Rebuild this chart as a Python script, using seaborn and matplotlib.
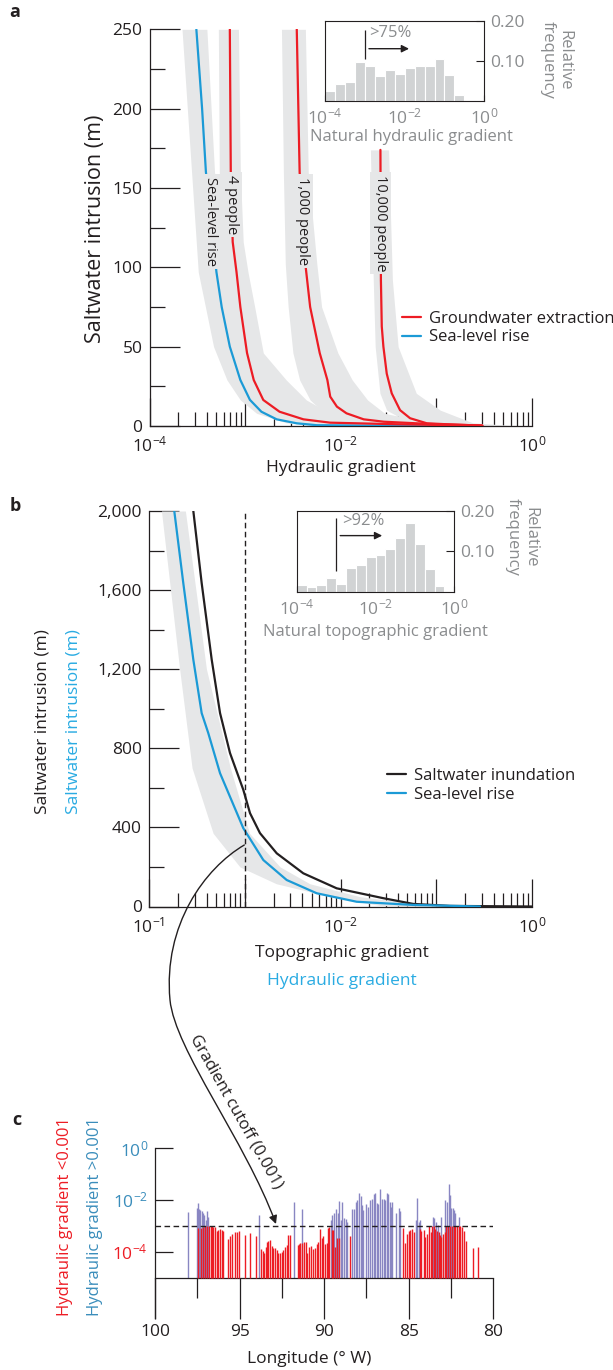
import matplotlib
matplotlib.use("Agg")
import matplotlib.pyplot as plt
import seaborn as sns
import numpy as np
from matplotlib.lines import Line2D
from matplotlib.patches import FancyArrowPatch
from matplotlib.path import Path
from matplotlib.ticker import FixedLocator, NullLocator

# ---------------- panel a : intrusion (m) vs log10(hydraulic gradient) ----------------
slr_a_grad = [-3.51, -3.45, -3.41, -3.30, -3.245, -3.16, -3.05, -2.95, -2.83, -2.67, -2.46, -2.25, -1.40, -0.52]
slr_a_intr = [250, 200, 160, 97, 75, 50, 29, 16.5, 9, 4.2, 1.7, 0.5, 0.1, 0.05]
p4_grad = [-3.16, -3.15, -3.13, -3.09, -3.05, -2.98, -2.91, -2.81, -2.64, -2.39, -2.11, -1.41, -0.52]
p4_intr = [250, 160, 116, 97, 75, 46, 29, 16.4, 9, 4.2, 2.1, 1.1, 0.2]
p1000_grad = [-2.46, -2.43, -2.37, -2.32, -2.22, -2.14, -2.11, -2.04, -1.94, -1.76, -1.55, -1.07, -0.52]
p1000_intr = [250, 160, 102, 75, 46, 29, 18.5, 12.2, 8, 4.2, 2.7, 1.3, 0.3]
p10000_grad = [-1.585, -1.58, -1.571, -1.554, -1.519, -1.467, -1.38, -1.275, -1.10, -0.89, -0.52]
p10000_intr = [174, 92, 62.7, 50, 33, 20.6, 10, 4.9, 1.7, 1.1, 0.2]

# uncertainty bands (intrusion level, lower / upper log10 gradient)
slr_band_lvl = [250, 160, 97, 50, 29, 16.4, 8, 2, 0]
slr_band_lo = [-3.66, -3.56, -3.49, -3.33, -3.19, -3.05, -2.88, -2.57, -2.25]
slr_band_hi = [-3.40, -3.32, -3.18, -2.95, -2.76, -2.53, -2.22, -1.80, -1.38]
p4_band_lvl = [250, 160, 116, 97, 75, 46, 29, 16.4, 8, 2, 0]
p4_band_lo = [-3.28, -3.27, -3.245, -3.23, -3.19, -3.12, -3.05, -2.95, -2.82, -2.53, -2.11]
p4_band_hi = [-3.07, -3.05, -3.02, -2.97, -2.90, -2.81, -2.57, -2.36, -2.11, -1.77, -1.17]
p1000_band_lvl = [250, 160, 102, 75, 46, 29, 16.4, 8, 2, 0]
p1000_band_lo = [-2.62, -2.60, -2.58, -2.55, -2.50, -2.43, -2.32, -2.17, -1.85, -1.38]
p1000_band_hi = [-2.37, -2.34, -2.25, -2.20, -2.03, -1.88, -1.72, -1.54, -1.07, -0.34]
p10000_band_lvl = [174, 92, 50, 20.6, 10, 2, 0]
p10000_band_lo = [-1.69, -1.66, -1.64, -1.59, -1.52, -1.28, -0.96]
p10000_band_hi = [-1.50, -1.46, -1.40, -1.21, -0.96, -0.62, -0.13]

# inset a: natural hydraulic gradient histogram (quarter-decade bins)
hyd_bin_left = [-4.0, -3.75, -3.5, -3.25, -3.0, -2.75, -2.5, -2.25, -2.0, -1.75, -1.5, -1.25, -1.0, -0.75]
hyd_freq = [0.024, 0.041, 0.047, 0.096, 0.088, 0.061, 0.076, 0.067, 0.082, 0.088, 0.088, 0.104, 0.065, 0.015]

# ---------------- panel b ----------------
inund_grad = [-3.537, -3.45, -3.345, -3.258, -3.154, -3.015, -2.945, -2.841, -2.666, -2.389, -2.04, -1.553, -1.24, -0.856, 0.0]
inund_intr = [2000, 1636, 1248, 978, 776, 590, 472, 371, 269, 168, 92, 42, 13, 3, 0]
slr_b_grad = [-3.736, -3.642, -3.537, -3.45, -3.381, -3.258, -3.015, -2.806, -2.562, -2.249, -1.831, -1.243, -0.543]
slr_b_intr = [2000, 1636, 1248, 978, 877, 674, 396, 235, 134, 67, 24, 8, 0]
slr_b_band_lvl = [2000, 1200, 700, 370, 200, 115, 50, 5, 0]
slr_b_band_lo = [-3.87, -3.68, -3.55, -3.33, -3.05, -2.67, -2.11, -1.59, -1.17]
slr_b_band_hi = [-3.62, -3.40, -3.15, -2.95, -2.63, -2.32, -1.80, -1.07, -0.65]

topo_bin_left = [-4.0, -3.75, -3.5, -3.25, -3.0, -2.75, -2.5, -2.25, -2.0, -1.75, -1.5, -1.25, -1.0, -0.75, -0.5]
topo_freq = [0.016, 0.012, 0.016, 0.033, 0.020, 0.058, 0.066, 0.086, 0.092, 0.105, 0.134, 0.170, 0.117, 0.057, 0.015]

# ---------------- panel c : gradient along the coast ----------------
lon_hi = [98.05, 97.53, 97.47, 97.40, 97.32, 97.24, 97.16, 97.08, 97.00, 96.92, 96.84,
          93.83, 91.76, 91.32,
          89.61, 89.51, 89.41, 89.31, 89.21, 89.11, 89.02, 88.92, 88.82, 88.72, 88.62,
          88.33, 88.23, 88.13, 88.03, 87.93, 87.85, 87.77, 87.68, 87.50, 87.38, 87.28, 87.18, 87.08, 86.98,
          86.89, 86.79, 86.71, 86.59, 86.49, 86.39, 86.29, 86.21, 86.13, 86.03, 85.96, 85.74, 85.60, 85.52,
          84.58, 84.50, 84.42, 84.32, 83.57, 83.49, 83.39, 83.29, 83.08, 82.84, 82.74, 82.64, 82.58,
          82.50, 82.41, 82.33, 82.25, 82.05]
grad_hi = [-2.48, -2.30, -2.11, -2.36, -2.39, -2.42, -2.52, -2.58, -2.78, -2.45, -2.65,
           -2.58, -2.07, -2.36,
           -2.78, -2.58, -2.49, -2.36, -2.52, -2.03, -2.78, -2.07, -2.71, -2.75, -2.84,
           -2.36, -2.36, -2.07, -2.00, -1.72, -1.87, -2.20, -2.39, -2.16, -2.26, -2.00, -1.98, -1.77, -1.75,
           -2.13, -2.16, -1.59, -1.98, -1.98, -2.00, -1.72, -1.77, -2.07, -2.26, -2.07, -2.52, -2.32, -2.45,
           -2.78, -1.94, -2.84, -2.78, -2.67, -2.71, -2.84, -2.97, -2.67, -2.00, -2.07, -1.39, -1.81,
           -2.32, -2.32, -2.39, -2.49, -2.67]
lon_lo = [97.44, 97.30, 97.18, 97.04, 96.94, 96.78, 96.71, 96.63, 96.55, 96.45, 96.35, 96.25, 96.15, 96.05,
          95.96, 95.70, 95.56, 95.42, 95.30, 95.17, 95.03, 94.67, 94.36, 94.02,
          93.75, 93.63, 93.55, 93.45, 93.39, 93.29, 93.19, 93.10, 93.00, 92.90, 92.80, 92.70, 92.60,
          92.50, 92.41, 92.31, 92.21, 92.15, 92.03,
          91.56, 91.48, 91.40, 91.28, 91.17, 91.09, 90.99, 90.89, 90.77, 90.63, 90.53, 90.44, 90.34,
          90.24, 90.14, 90.04, 89.94, 89.84, 89.79, 89.69, 89.55, 89.45, 89.35, 89.25, 89.15, 88.46,
          85.31, 85.21, 85.11, 85.01, 84.91, 84.81, 84.71, 84.36, 84.26, 84.12, 84.02, 83.90, 83.83,
          83.71, 83.63, 83.53, 83.43, 83.33, 83.23, 83.18, 83.08, 82.98, 82.88, 82.80, 82.68, 82.54,
          82.45, 82.35, 82.25, 82.15, 82.05, 81.95, 81.85, 81.74, 81.60, 81.22, 80.89]
grad_lo = [-3.10, -3.10, -3.06, -3.02, -3.00, -3.00, -3.02, -3.01, -3.03, -3.06, -3.19, -3.16, -3.14, -3.16,
           -3.20, -3.52, -3.39, -3.31, -3.26, -3.23, -3.19, -3.36, -3.29, -3.38,
           -3.91, -3.96, -4.06, -3.81, -3.61, -3.57, -3.55, -3.78, -3.84, -3.84, -3.93, -4.06, -4.06,
           -4.00, -3.93, -3.81, -3.74, -3.35, -3.35,
           -3.74, -3.70, -3.68, -3.68, -3.61, -3.61, -4.06, -3.83, -3.78, -3.91, -3.87, -3.70, -3.61,
           -3.14, -3.48, -3.39, -3.70, -3.65, -3.10, -3.03, -3.16, -3.16, -3.83, -3.48, -3.48, -3.39,
           -3.10, -3.68, -3.32, -3.19, -3.16, -3.14, -3.23, -3.14, -3.19, -3.16, -3.45, -3.32, -3.01,
           -3.23, -3.01, -3.01, -3.14, -3.19, -3.23, -3.35, -3.42, -3.32, -3.23, -3.01, -3.01, -3.00,
           -3.00, -3.01, -3.00, -3.00, -3.00, -3.01, -3.03, -3.19, -3.59, -3.87, -3.83]

# ---------------- style ----------------
INK = "#231f20"
GRAYTXT = "#8a8c8e"
BAND = "#e6e7e8"
RED = "#ed1c24"
BLUE = "#1b9ad6"
CYAN = "#29abe2"
STEEL = "#3a8dbb"
PURPLE = "#8986c2"
HIST = "#d1d3d4"

sns.set_style("white")
plt.rcParams["font.family"] = ["Open Sans", "DejaVu Sans"]
plt.rcParams.update({
    "mathtext.fontset": "custom",
    "mathtext.rm": "Open Sans",
    "mathtext.it": "Open Sans:italic",
    "mathtext.bf": "Open Sans:bold",
    "text.color": INK,
    "axes.edgecolor": INK,
    "axes.linewidth": 0.9,
})

W, H = 613, 1370


def fx(x):
    return x / W


def fy(y):
    return 1 - y / H


def pw(w):
    return w / W


def ph(h):
    return h / H


def sup(e):
    return r"$\mathregular{10^{%d}}$" % e


decades = [1e-4, 1e-3, 1e-2, 1e-1, 1.0]
minor_x = [m * 10.0 ** e for e in range(-4, 0) for m in range(2, 10)]


def style_main(ax, xlabels, ymax, ymajor, ylabels, yminor):
    ax.set_xscale("log")
    ax.set_xlim(1e-4, 1)
    ax.set_ylim(0, ymax)
    ax.set_xticks(decades, labels=xlabels)
    ax.xaxis.set_minor_locator(FixedLocator(minor_x))
    ax.set_yticks(ymajor, labels=ylabels)
    ax.yaxis.set_minor_locator(FixedLocator(yminor))
    ax.tick_params(axis="x", which="both", bottom=True, top=False)
    ax.tick_params(axis="y", which="both", left=True, right=False)
    ax.tick_params(axis="x", which="major", direction="in", length=20, width=0.9, color=INK,
                   labelsize=12.5, labelcolor=INK, pad=7)
    ax.tick_params(axis="x", which="minor", direction="in", length=10, width=0.9, color=INK)
    ax.tick_params(axis="y", which="major", direction="in", length=21.5, width=0.9, color=INK,
                   labelsize=12.5, labelcolor=INK, pad=5)
    ax.tick_params(axis="y", which="minor", direction="in", length=10.8, width=0.9, color=INK)
    sns.despine(ax=ax)
    ax.patch.set_alpha(0)


def band(ax, lvl, lo, hi):
    ax.fill_betweenx(lvl, 10 ** np.array(lo), 10 ** np.array(hi), color=BAND, lw=0, zorder=1)


def curve(ax, g, v, color):
    sns.lineplot(x=10 ** np.array(g), y=v, sort=False, estimator=None, color=color,
                 lw=1.6, ax=ax, zorder=3)


def inset(ax, left, freq, pct, vline, arrow_y, arrow_end, text_pos):
    edges = 10 ** np.array(left)
    widths = 10 ** (np.array(left) + 0.25) - edges
    ax.bar(edges, freq, width=widths, align="edge", color=HIST, edgecolor="white", lw=0.8)
    ax.set_xscale("log")
    ax.set_xlim(1e-4, 1)
    ax.set_ylim(0, 0.2)
    ax.set_xticks(decades, labels=[sup(-4), "", sup(-2), "", sup(0)])
    ax.xaxis.set_minor_locator(NullLocator())
    ax.yaxis.tick_right()
    ax.set_yticks([0.1, 0.2], labels=["0.10", "0.20"])
    ax.tick_params(axis="x", bottom=True, top=False)
    ax.tick_params(axis="y", right=True, left=False)
    ax.tick_params(axis="x", direction="in", length=4, width=0.8, color=INK, labelsize=12.5,
                   labelcolor=GRAYTXT, pad=5)
    ax.tick_params(axis="y", direction="in", length=5.5, width=0.8, color=INK, labelsize=12.5,
                   labelcolor=GRAYTXT, pad=4)
    for s in ax.spines.values():
        s.set_visible(True)
        s.set_color(INK)
        s.set_linewidth(0.8)
    ax.vlines(1e-3, vline[0], vline[1], color=INK, lw=0.9)
    ax.annotate("", xy=(arrow_end, arrow_y), xytext=(1.08e-3, arrow_y),
                arrowprops=dict(arrowstyle="-|>", color=INK, lw=1, mutation_scale=11))
    ax.text(text_pos[0], text_pos[1], pct, ha="left", va="center", fontsize=12, color=GRAYTXT)


fig = plt.figure(figsize=(W / 100, H / 100), dpi=100)

# ---------------- panel a ----------------
ax_a = fig.add_axes([fx(149.5), fy(426), pw(382.5), ph(396.7)])
band(ax_a, slr_band_lvl, slr_band_lo, slr_band_hi)
band(ax_a, p4_band_lvl, p4_band_lo, p4_band_hi)
band(ax_a, p1000_band_lvl, p1000_band_lo, p1000_band_hi)
band(ax_a, p10000_band_lvl, p10000_band_lo, p10000_band_hi)
curve(ax_a, slr_a_grad, slr_a_intr, BLUE)
curve(ax_a, p4_grad, p4_intr, RED)
curve(ax_a, p1000_grad, p1000_intr, RED)
curve(ax_a, p10000_grad, p10000_intr, RED)
style_main(ax_a, [sup(-4), "", sup(-2), "", sup(0)], 250,
           [0, 50, 100, 150, 200, 250], ["0", "50", "100", "150", "200", "250"],
           [25, 75, 125, 175, 225])
for txt, gx, gy in [("Sea-level rise", -3.36, 129), ("4 people", -3.14, 139.5),
                    ("1,000 people", -2.40, 129), ("10,000 people", -1.583, 128)]:
    ax_a.text(10 ** gx, gy, txt, rotation=-90, ha="center", va="center", fontsize=10.5,
              color=INK, zorder=5,
              bbox=dict(boxstyle="square,pad=0.2", fc=BAND, ec="none"))
ax_a.legend(handles=[Line2D([], [], color=RED, lw=1.6), Line2D([], [], color=BLUE, lw=1.6)],
            labels=["Groundwater extraction", "Sea-level rise"], loc="upper left",
            bbox_to_anchor=(0.659, 0.29), frameon=False, fontsize=12, handlelength=1.15,
            handletextpad=0.5, labelspacing=0.15, borderpad=0, borderaxespad=0)
fig.text(fx(95), fy(229), "Saltwater intrusion (m)", rotation=90, ha="center", va="center", fontsize=15.5)
fig.text(fx(341), fy(468), "Hydraulic gradient", ha="center", va="center", fontsize=12.5)

ax_ia = fig.add_axes([fx(325), fy(100.7), pw(159.3), ph(80)])
inset(ax_ia, hyd_bin_left, hyd_freq, ">75%", (0.104, 0.176), 0.13, 10 ** -1.82, (10 ** -2.88, 0.169))
fig.text(fx(411.7), fy(136.7), "Natural hydraulic gradient", ha="center", va="center",
         fontsize=12, color=GRAYTXT)
fig.text(fx(556), fy(60), "Relative\nfrequency", rotation=270, ha="center", va="center",
         multialignment="center", fontsize=12, color=GRAYTXT, linespacing=1.1)

# ---------------- panel b ----------------
ax_b = fig.add_axes([fx(149), fy(906.5), pw(383), ph(395.5)])
band(ax_b, slr_b_band_lvl, slr_b_band_lo, slr_b_band_hi)
curve(ax_b, inund_grad, inund_intr, INK)
curve(ax_b, slr_b_grad, slr_b_intr, BLUE)
ax_b.axvline(1e-3, color=INK, lw=1, ls=(0, (4, 2.5)), zorder=4)
style_main(ax_b, [sup(-1), "", sup(-2), "", sup(0)], 2000,
           [0, 400, 800, 1200, 1600, 2000], ["0", "400", "800", "1,200", "1,600", "2,000"],
           [200, 600, 1000, 1400, 1800])
ax_b.legend(handles=[Line2D([], [], color=INK, lw=1.6), Line2D([], [], color=BLUE, lw=1.6)],
            labels=["Saltwater inundation", "Sea-level rise"], loc="upper left",
            bbox_to_anchor=(0.621, 0.35), frameon=False, fontsize=12, handlelength=1.15,
            handletextpad=0.5, labelspacing=0.15, borderpad=0, borderaxespad=0)
fig.text(fx(43), fy(722), "Saltwater intrusion (m)", rotation=90, ha="center", va="center", fontsize=12.5)
fig.text(fx(74), fy(722), "Saltwater intrusion (m)", rotation=90, ha="center", va="center",
         fontsize=12.5, color=CYAN)
fig.text(fx(342), fy(953), "Topographic gradient", ha="center", va="center", fontsize=12.5)
fig.text(fx(342), fy(981), "Hydraulic gradient", ha="center", va="center", fontsize=12.5, color=CYAN)

ax_ib = fig.add_axes([fx(296.7), fy(591.7), pw(157.6), ph(80.7)])
inset(ax_ib, topo_bin_left, topo_freq, ">92%", (0.0525, 0.183), 0.139, 10 ** -1.76, (10 ** -2.84, 0.176))
fig.text(fx(375.8), fy(632), "Natural topographic gradient", ha="center", va="center",
         fontsize=12, color=GRAYTXT)
fig.text(fx(521.7), fy(537), "Relative\nfrequency", rotation=270, ha="center", va="center",
         multialignment="center", fontsize=12, color=GRAYTXT, linespacing=1.1)

# ---------------- panel c ----------------
ax_c = fig.add_axes([fx(155), fy(1318), pw(338.3), ph(170)])
ax_c.set_yscale("log")
ax_c.set_xlim(100, 80)
ax_c.set_ylim(10 ** -6.56, 1)
ax_c.vlines(lon_hi, 1e-5, 10 ** np.array(grad_hi), color=PURPLE, lw=1.0, zorder=2)
ax_c.vlines(lon_lo, 1e-5, 10 ** np.array(grad_lo), color=RED, lw=1.0, zorder=3)
ax_c.axhline(1e-3, color=INK, lw=1, ls=(0, (4, 2.5)), zorder=4)
sns.despine(ax=ax_c)
ax_c.spines["bottom"].set_position(("data", 1e-5))
ax_c.set_xticks([100, 95, 90, 85, 80], labels=["100", "95", "90", "85", "80"])
ax_c.xaxis.set_minor_locator(FixedLocator([97.5, 92.5, 87.5, 82.5]))
ax_c.tick_params(axis="x", which="both", bottom=True, top=False)
ax_c.tick_params(axis="x", which="major", direction="out", length=29.5, width=0.9, color=INK,
                 labelsize=12.5, labelcolor=INK, pad=4)
ax_c.tick_params(axis="x", which="minor", direction="out", length=14.4, width=0.9, color=INK)
ax_c.set_yticks([1, 1e-2, 1e-4], labels=[sup(0), sup(-2), sup(-4)])
ax_c.yaxis.set_minor_locator(NullLocator())
ax_c.tick_params(axis="y", left=True, right=False, direction="in", length=13, width=0.9,
                 color=INK, labelsize=12.5, pad=5)
for lab, col in zip(ax_c.get_yticklabels(), [STEEL, STEEL, RED]):
    lab.set_color(col)
ax_c.patch.set_alpha(0)
fig.text(fx(65), fy(1217), "Hydraulic gradient <0.001", rotation=90, ha="center", va="center",
         fontsize=12, color=RED)
fig.text(fx(95), fy(1217), "Hydraulic gradient >0.001", rotation=90, ha="center", va="center",
         fontsize=12, color=STEEL)
fig.text(fx(309), fy(1359), "Longitude (\u00b0 W)", ha="center", va="center", fontsize=12.5)

# connector from panel b cut-off to panel c
verts = [(244.3, 845), (205, 868), (163, 925), (170, 1000), (175, 1050), (245, 1140), (276, 1224)]
verts = [(fx(x), fy(y)) for x, y in verts]
codes = [Path.MOVETO, Path.CURVE4, Path.CURVE4, Path.CURVE4, Path.CURVE4, Path.CURVE4, Path.CURVE4]
conn = FancyArrowPatch(path=Path(verts, codes), arrowstyle="-|>", mutation_scale=12,
                       color=INK, lw=1, transform=fig.transFigure)
fig.add_artist(conn)
fig.text(fx(236), fy(1112), "Gradient cutoff (0.001)", rotation=-60.7, ha="center", va="center",
         rotation_mode="anchor", fontsize=12)

# panel letters
fig.text(fx(15), fy(12), "a", fontsize=13, fontweight="bold", ha="center", va="center")
fig.text(fx(15), fy(506), "b", fontsize=13, fontweight="bold", ha="center", va="center")
fig.text(fx(17), fy(1120), "c", fontsize=13, fontweight="bold", ha="center", va="center")

fig.savefig("out.png", dpi=100)
